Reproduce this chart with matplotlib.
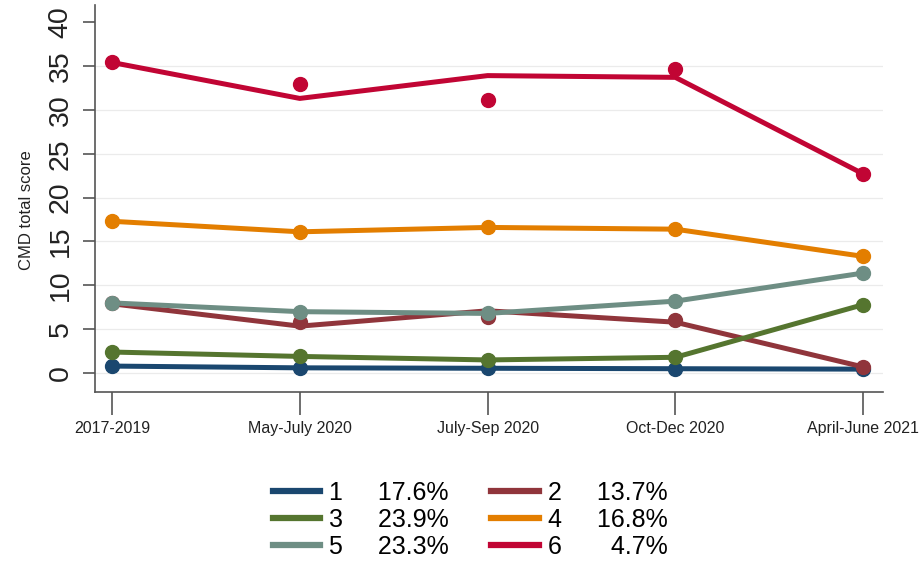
import matplotlib.pyplot as plt
from matplotlib.lines import Line2D

plt.rcParams["font.family"] = ["Liberation Sans", "DejaVu Sans"]

# Survey waves and latent classes
waves = ["2017-2019", "May-July 2020", "July-Sep 2020", "Oct-Dec 2020", "April-June 2021"]
classes = ["1", "2", "3", "4", "5", "6"]
shares = [17.6, 13.7, 23.9, 16.8, 23.3, 4.7]

# Observed mean CMD score per class and wave
obs_1 = [0.8, 0.6, 0.55, 0.5, 0.45]
obs_2 = [8.0, 5.8, 6.4, 6.1, 0.7]
obs_3 = [2.4, 1.9, 1.5, 1.8, 7.8]
obs_4 = [17.3, 16.1, 16.6, 16.4, 13.3]
obs_5 = [8.0, 7.0, 6.8, 8.2, 11.4]
obs_6 = [35.4, 32.9, 31.1, 34.6, 22.7]

# Model-estimated trajectories
fit_1 = [0.8, 0.6, 0.55, 0.5, 0.45]
fit_2 = [7.9, 5.35, 7.1, 5.8, 0.7]
fit_3 = [2.4, 1.9, 1.5, 1.8, 7.8]
fit_4 = [17.3, 16.1, 16.6, 16.4, 13.3]
fit_5 = [8.0, 7.0, 6.8, 8.2, 11.4]
fit_6 = [35.4, 31.3, 33.9, 33.7, 22.7]

observed = [obs_1, obs_2, obs_3, obs_4, obs_5, obs_6]
fitted = [fit_1, fit_2, fit_3, fit_4, fit_5, fit_6]
colors = ["#1a476f", "#90353b", "#55752f", "#e37e00", "#6e8e84", "#c10534"]

x = list(range(len(waves)))

fig = plt.figure(figsize=(9.22, 5.61), dpi=100)
ax = fig.add_axes([0.103, 0.301, 0.855, 0.690])

for obs, fit, col in zip(observed, fitted, colors):
    ax.plot(x, fit, color=col, lw=3.6, solid_capstyle="round", zorder=3)
    ax.plot(x, obs, "o", color=col, ms=10, mec=col, zorder=4)

ax.set_xlim(-0.0905, 4.107)
ax.set_ylim(-2.17, 41.94)
ax.set_yticks(range(0, 41, 5))
ax.set_xticks(x)
ax.set_xticklabels(waves, fontsize=11.5, color="#222222")
ax.tick_params(axis="x", length=16.5, width=1.2, color="#555555", pad=4)
ax.tick_params(axis="y", length=8.5, width=1.2, color="#555555", pad=7,
               labelsize=20.5, labelrotation=90, labelcolor="#222222")
for lab in ax.get_yticklabels():
    lab.set_verticalalignment("center")

for v in range(0, 40, 5):
    ax.axhline(v, color="#ebebeb", lw=0.9, zorder=1)

for side in ["top", "right"]:
    ax.spines[side].set_visible(False)
for side in ["left", "bottom"]:
    ax.spines[side].set_color("#555555")
    ax.spines[side].set_linewidth(1.2)

ax.set_ylabel("CMD total score", fontsize=12, color="#222222")
ax.yaxis.set_label_coords(-0.077, 0.47)

# Legend: class number and class share, filled row by row
handles = []
labels = []
for k in [0, 2, 4, 1, 3, 5]:
    handles.append(Line2D([], [], color=colors[k], lw=4.5))
    pct = f"{shares[k]:.1f}%"
    pad = " " * 7 if shares[k] < 10 else " " * 5
    labels.append(f"{classes[k]}{pad}{pct}")
fig.legend(handles, labels, ncol=2, loc="upper center", bbox_to_anchor=(0.51, 0.161),
           frameon=False, fontsize=18, handlelength=1.9, handletextpad=0.35,
           columnspacing=1.7, labelspacing=0.13, borderaxespad=0)

fig.savefig("out.png", dpi=100, facecolor="white")
